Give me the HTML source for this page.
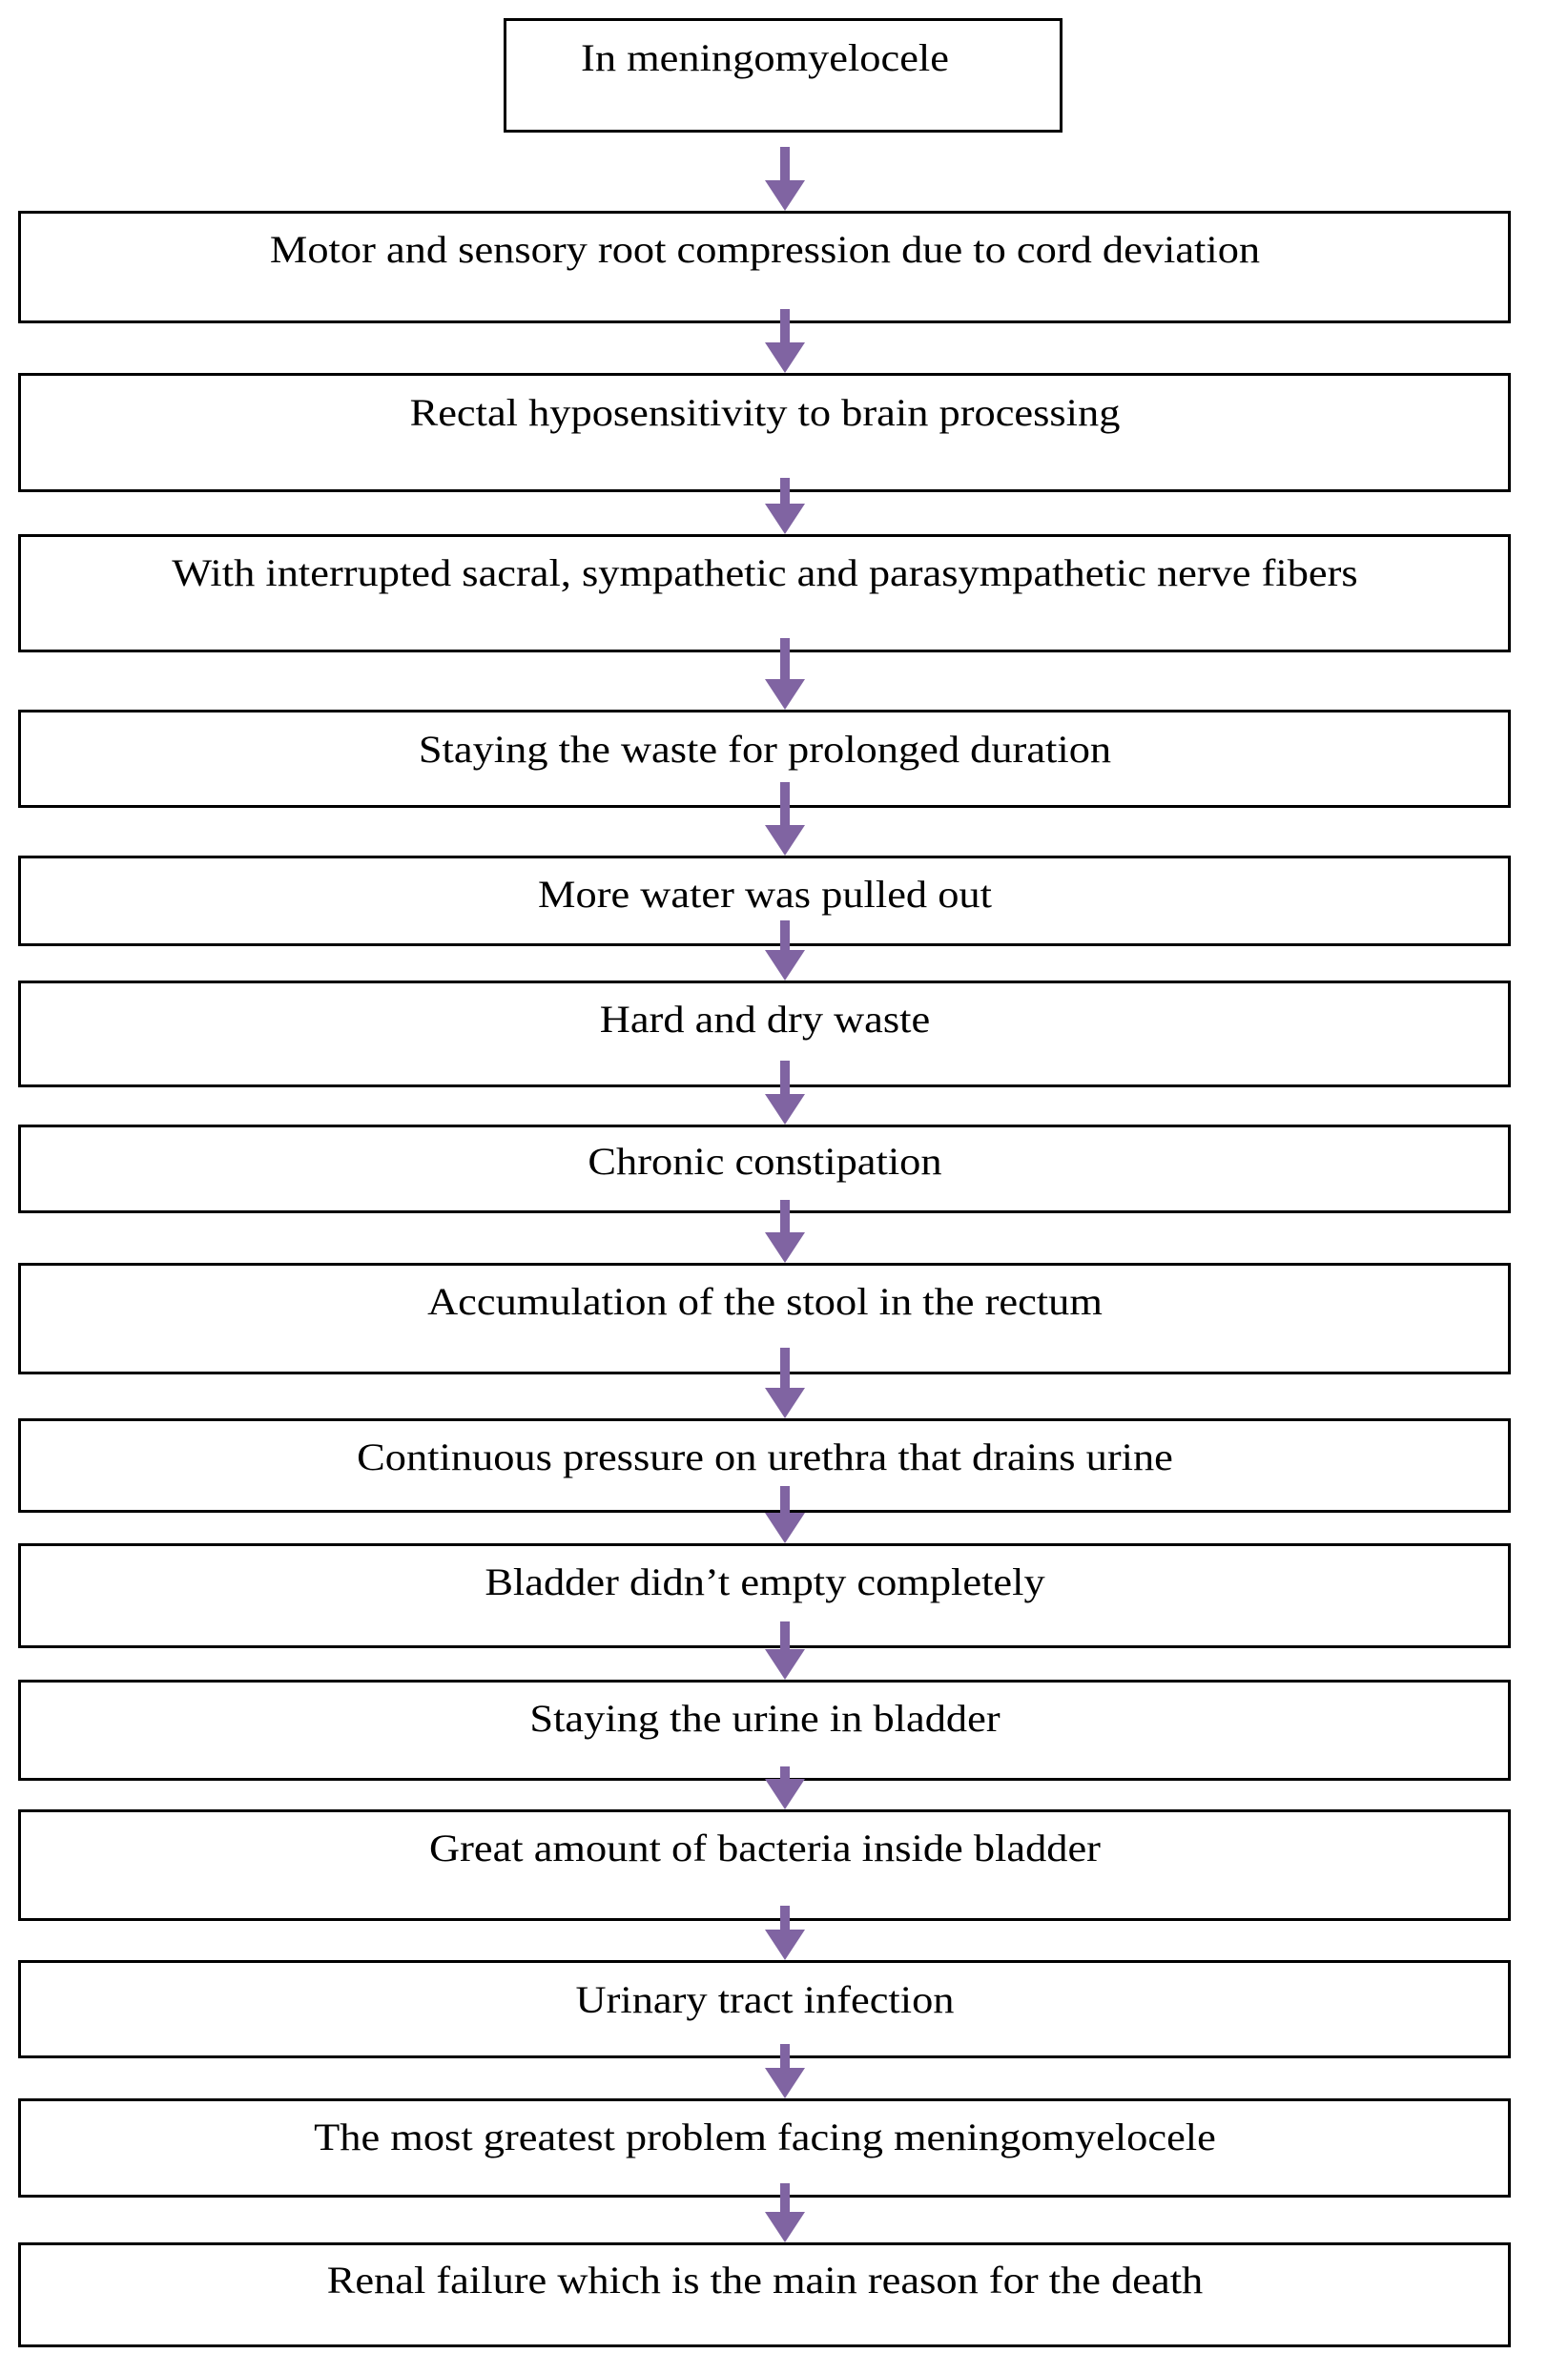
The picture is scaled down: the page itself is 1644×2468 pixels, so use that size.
<!DOCTYPE html>
<html><head><meta charset="utf-8"><style>
body{margin:0;width:1644px;height:2468px;background:#fff;position:relative;overflow:hidden;font-family:"Liberation Serif",serif;}
.b{position:absolute;left:19px;width:1565px;border:3px solid #000;box-sizing:border-box;}
.t{position:absolute;left:0;width:1604px;text-align:center;font-size:40px;line-height:40px;color:#000;white-space:nowrap;transform:scaleX(1.11);transform-origin:802px 0;margin-top:-2px}
svg{position:absolute;left:0;top:0}
</style></head><body>
<div class="b" style="left:528px;width:586px;top:19px;height:120px"></div>
<div class="b" style="top:221px;height:118px"></div>
<div class="b" style="top:391px;height:125px"></div>
<div class="b" style="top:560px;height:124px"></div>
<div class="b" style="top:744px;height:103px"></div>
<div class="b" style="top:897px;height:95px"></div>
<div class="b" style="top:1028px;height:112px"></div>
<div class="b" style="top:1179px;height:93px"></div>
<div class="b" style="top:1324px;height:117px"></div>
<div class="b" style="top:1487px;height:99px"></div>
<div class="b" style="top:1618px;height:110px"></div>
<div class="b" style="top:1761px;height:106px"></div>
<div class="b" style="top:1897px;height:117px"></div>
<div class="b" style="top:2055px;height:103px"></div>
<div class="b" style="top:2200px;height:104px"></div>
<div class="b" style="top:2351px;height:110px"></div>
<div class="t" style="top:43px">In meningomyelocele</div>
<div class="t" style="top:244px">Motor and sensory root compression due to cord deviation</div>
<div class="t" style="top:415px">Rectal hyposensitivity to brain processing</div>
<div class="t" style="top:583px">With interrupted sacral, sympathetic and parasympathetic nerve fibers</div>
<div class="t" style="top:768px">Staying the waste for prolonged duration</div>
<div class="t" style="top:920px">More water was pulled out</div>
<div class="t" style="top:1051px">Hard and dry waste</div>
<div class="t" style="top:1200px">Chronic constipation</div>
<div class="t" style="top:1347px">Accumulation of the stool in the rectum</div>
<div class="t" style="top:1510px">Continuous pressure on urethra that drains urine</div>
<div class="t" style="top:1641px">Bladder didn’t empty completely</div>
<div class="t" style="top:1784px">Staying the urine in bladder</div>
<div class="t" style="top:1920px">Great amount of bacteria inside bladder</div>
<div class="t" style="top:2079px">Urinary tract infection</div>
<div class="t" style="top:2223px">The most greatest problem facing meningomyelocele</div>
<div class="t" style="top:2373px">Renal failure which is the main reason for the death</div>
<svg width="1644" height="2468">
<g fill="#8064a2">
<path d="M818 154h10v35h16l-21 32l-21-32h16z"/>
<path d="M818 324h10v35h16l-21 32l-21-32h16z"/>
<path d="M818 501h10v27h16l-21 32l-21-32h16z"/>
<path d="M818 669h10v43h16l-21 32l-21-32h16z"/>
<path d="M818 820h10v45h16l-21 32l-21-32h16z"/>
<path d="M818 965h10v31h16l-21 32l-21-32h16z"/>
<path d="M818 1112h10v35h16l-21 32l-21-32h16z"/>
<path d="M818 1258h10v34h16l-21 32l-21-32h16z"/>
<path d="M818 1413h10v42h16l-21 32l-21-32h16z"/>
<path d="M818 1558h10v28h16l-21 32l-21-32h16z"/>
<path d="M818 1700h10v29h16l-21 32l-21-32h16z"/>
<path d="M818 1852h10v13h16l-21 32l-21-32h16z"/>
<path d="M818 1998h10v25h16l-21 32l-21-32h16z"/>
<path d="M818 2143h10v25h16l-21 32l-21-32h16z"/>
<path d="M818 2289h10v30h16l-21 32l-21-32h16z"/>
</g>
</svg>
</body></html>
